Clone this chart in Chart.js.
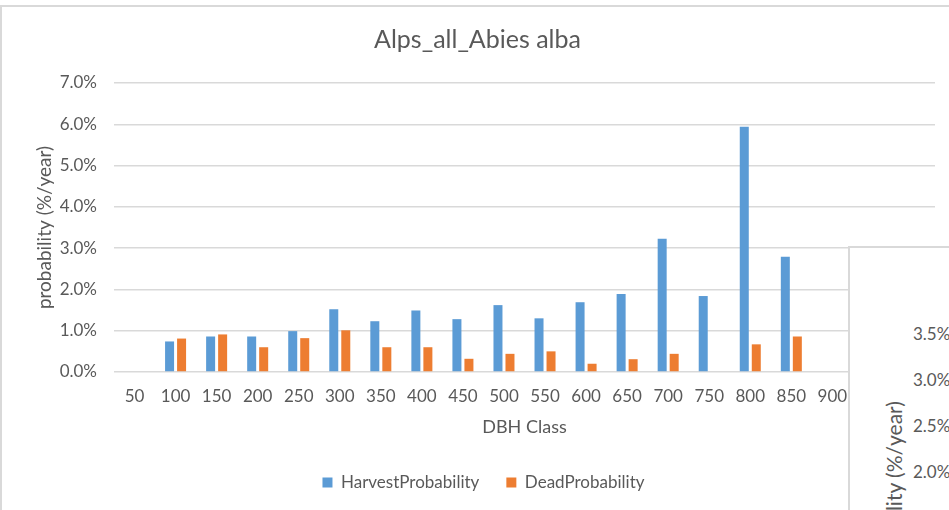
<!DOCTYPE html>
<html>
<head>
<meta charset="utf-8">
<script src="https://cdn.jsdelivr.net/npm/chart.js@4"></script>
<style>
    html, body { margin: 0; padding: 0; background: #ffffff; overflow: hidden; }
    #wrap { position: relative; width: 949px; height: 510px; }
    #frame { position: absolute; left: 0; top: 5px; width: 1000px; height: 600px; border: 2px solid #d9d9d9; box-sizing: border-box; }
    #mainChart { position: absolute; left: 0; top: 0; }
    #behind { position: absolute; left: 848px; top: 246px; width: 200px; height: 300px; background: #ffffff; border: 2px solid #d9d9d9; box-sizing: border-box; font-family: Lato, sans-serif; color: #595959; }
    #behind .tick { position: absolute; left: 63px; font-size: 17px; line-height: 17px; }
    #behind .ytitle { position: absolute; left: 0; top: 0; font-size: 21px; line-height: 21px; white-space: nowrap; transform-origin: left top; }
</style>
</head>
<body>
<div id="wrap">
    <div id="frame"></div>
    <canvas id="mainChart" width="949" height="510"></canvas>
    <div id="behind"></div>
</div>
<script>
const categories = ['50', '100', '150', '200', '250', '300', '350', '400', '450', '500',
    '550', '600', '650', '700', '750', '800', '850', '900', '950', '1000'];
const harvestProbability = [null, 0.74, 0.86, 0.86, 0.99, 1.52, 1.23, 1.49, 1.28, 1.62,
    1.30, 1.69, 1.89, 3.23, 1.84, 5.94, 2.79, null, null, null];
const deadProbability = [null, 0.81, 0.91, 0.60, 0.82, 1.01, 0.60, 0.60, 0.32, 0.44,
    0.50, 0.20, 0.31, 0.44, 0, 0.67, 0.86, null, null, null];
const yTicks = [0, 1, 2, 3, 4, 5, 6, 7];
// tick labels of the other chart window peeking in at the bottom right
const behindTicks = ['3.5%', '3.0%', '2.5%', '2.0%', '1.5%'];

const textGrey = '#595959';
const gridGrey = '#d9d9d9';

// the overlapping window (only its axis text shows)
const behind = document.getElementById('behind');
behindTicks.forEach((t, i) => {
    const el = document.createElement('div');
    el.className = 'tick';
    el.textContent = t;
    el.style.top = (77 + i * 46) + 'px';
    behind.appendChild(el);
});
const yt = document.createElement('div');
yt.className = 'ytitle';
yt.textContent = 'probability (%/year)';
behind.appendChild(yt);
// rotated, text end ")" sits near y=152 inside the box
const ytW = yt.offsetWidth;
yt.style.transform = 'rotate(-90deg)';
yt.style.left = '33px';
yt.style.top = (153 + ytW) + 'px';

// nudge legend and title a little right, like the original
const boxShift = {
    id: 'boxShift',
    afterLayout(chart) {
        chart.legend.left += 16;
        chart.legend.right += 16;
        chart.titleBlock.left += 10;
        chart.titleBlock.right += 10;
    }
};

const ctx = document.getElementById('mainChart');

new Chart(ctx, {
    type: 'bar',
    data: {
        labels: categories,
        datasets: [{
            label: 'HarvestProbability',
            data: harvestProbability,
            backgroundColor: '#5b9bd5',
            borderWidth: 0
        }, {
            label: 'DeadProbability',
            data: deadProbability,
            backgroundColor: '#ed7d31',
            borderWidth: 0
        }]
    },
    plugins: [boxShift],
    options: {
        responsive: false,
        animation: false,
        categoryPercentage: 0.585,
        barPercentage: 0.75,
        layout: {
            padding: { left: 0, right: 14, top: 0, bottom: 9 }
        },
        plugins: {
            title: {
                display: true,
                text: 'Alps_all_Abies alba',
                color: textGrey,
                font: { family: 'Lato', size: 25, weight: 'normal' },
                padding: { top: 25, bottom: 28 }
            },
            legend: {
                position: 'bottom',
                labels: {
                    color: textGrey,
                    font: { family: 'Lato', size: 17 },
                    boxWidth: 10,
                    boxHeight: 10,
                    padding: 27
                }
            },
            tooltip: { enabled: false }
        },
        scales: {
            x: {
                grid: { display: false, drawTicks: false },
                border: { display: false },
                ticks: {
                    color: textGrey,
                    font: { family: 'Lato', size: 17 },
                    autoSkip: false,
                    maxRotation: 0,
                    padding: 14
                },
                title: {
                    display: true,
                    text: 'DBH Class',
                    color: textGrey,
                    font: { family: 'Lato', size: 18 },
                    padding: { top: 0, bottom: 9 }
                },
                afterFit: (scale) => { scale.height = 75; }
            },
            y: {
                min: 0,
                max: 7,
                afterBuildTicks: (scale) => { scale.ticks = yTicks.map(v => ({ value: v })); },
                grid: { color: gridGrey, lineWidth: 1.5, drawTicks: false },
                border: { display: false },
                ticks: {
                    color: textGrey,
                    font: { family: 'Lato', size: 17 },
                    padding: 17,
                    callback: (v) => v.toFixed(1) + '%'
                },
                title: {
                    display: true,
                    text: 'probability (%/year)',
                    color: textGrey,
                    font: { family: 'Lato', size: 19 },
                    padding: { top: 33, bottom: 0 }
                },
                afterFit: (scale) => { scale.width = 114; }
            }
        }
    }
});
</script>
</body>
</html>
